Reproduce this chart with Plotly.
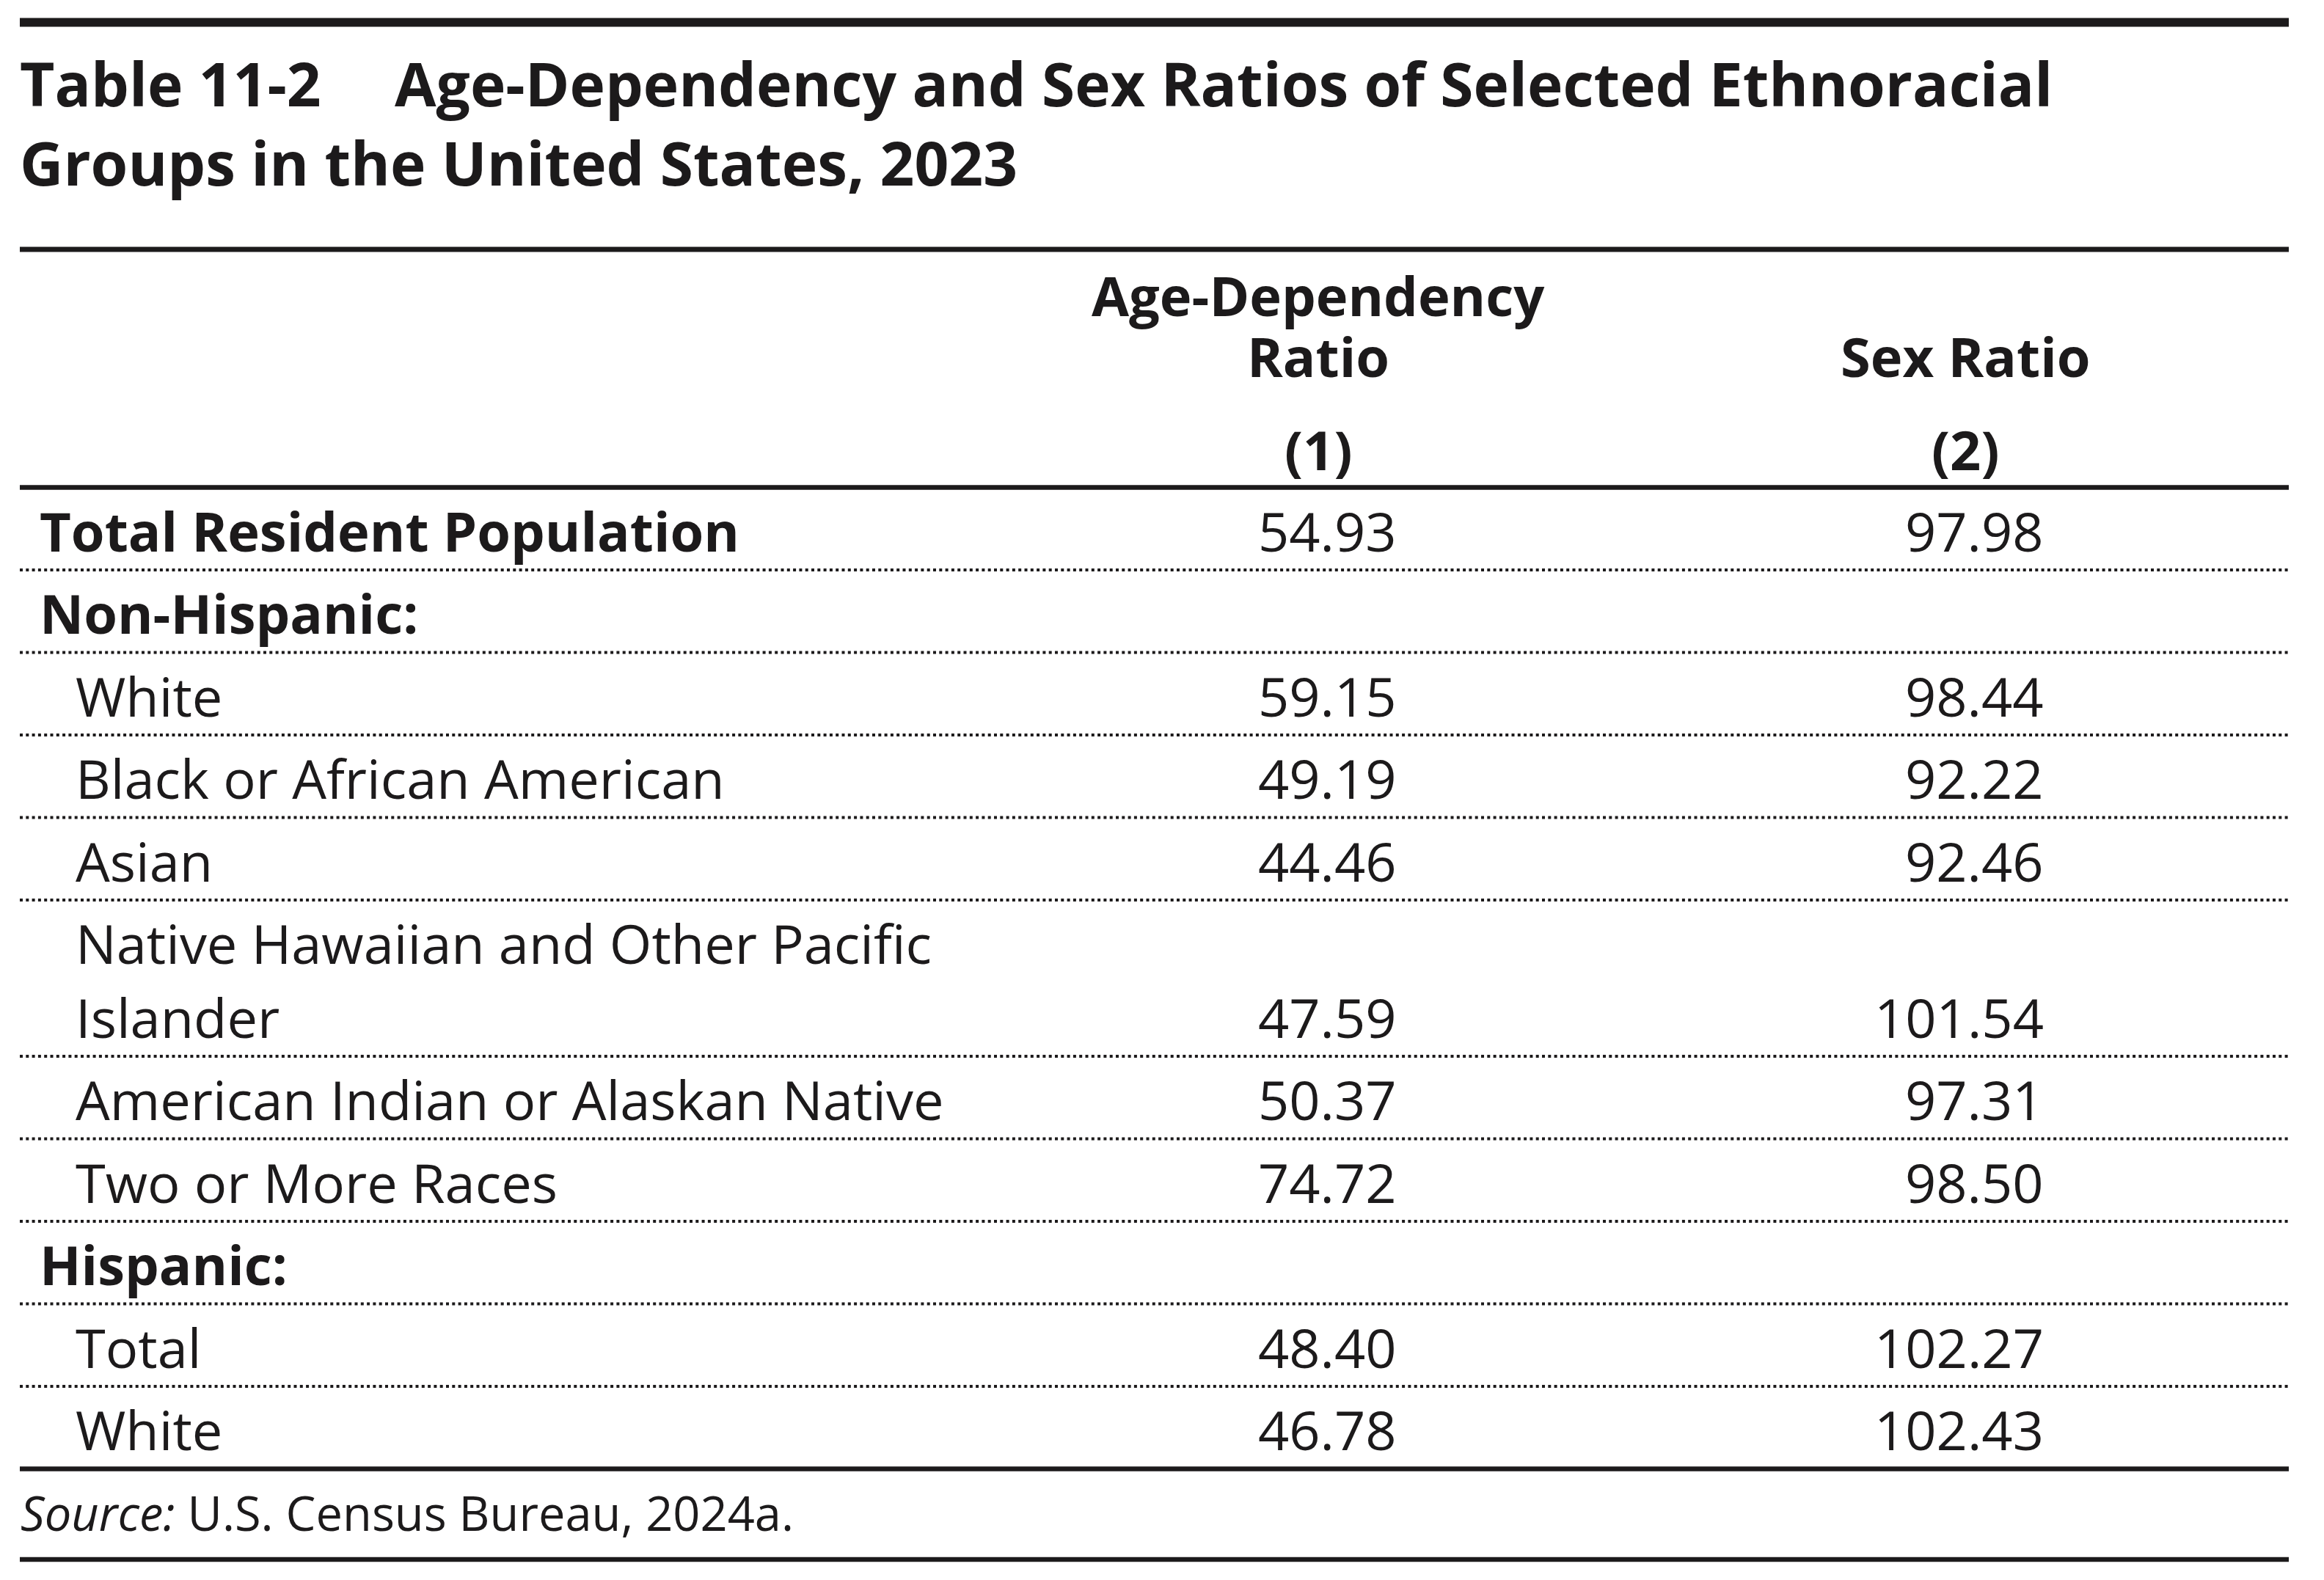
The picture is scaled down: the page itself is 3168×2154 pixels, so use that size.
import plotly.graph_objects as go

# ---- table content ----
table_number = "Table 11-2"
title_lines = [
    "Age-Dependency and Sex Ratios of Selected Ethnoracial",
    "Groups in the United States, 2023",
]
col_headers = [["Age-Dependency", "Ratio"], ["Sex Ratio"]]
col_numbers = ["(1)", "(2)"]

row_labels = [
    "Total Resident Population",
    "Non-Hispanic:",
    "White",
    "Black or African American",
    "Asian",
    "Native Hawaiian and Other Pacific\nIslander",
    "American Indian or Alaskan Native",
    "Two or More Races",
    "Hispanic:",
    "Total",
    "White",
]
row_bold = [True, True, False, False, False, False, False, False, True, False, False]
age_dependency = [54.93, None, 59.15, 49.19, 44.46, 47.59, 50.37, 74.72, None, 48.40, 46.78]
sex_ratio = [97.98, None, 98.44, 92.22, 92.46, 101.54, 97.31, 98.50, None, 102.27, 102.43]

source_label = "Source:"
source_text = "U.S. Census Bureau, 2024a."

# ---- layout constants (screen pixels) ----
W, H = 3168, 2154
PAGE_MARGIN = 8          # default <body> margin of the written html page
FONT = "Open Sans"
INK = "#1c1a1b"
X0, X1 = 27, 3120
TITLE_SIZE = 82
BODY_SIZE = 74
SOURCE_SIZE = 65
ROW_PITCH = 112.5
EXTRA_LINE = 100.5
HEADER_RULE_Y = 664.5
LABEL_X = {True: 54, False: 103}
VALUE_RIGHT = [1904, 2786]
HEADER_CENTER = [1797, 2679]

annotations = []
shapes = []


def text(x, y, s, size=BODY_SIZE, anchor="left", bold=False):
    annotations.append(dict(
        x=x, y=y, xref="x", yref="y", text=s, showarrow=False,
        xanchor=anchor, yanchor="middle", borderpad=0, borderwidth=0,
        font=dict(family=FONT, size=size, color=INK, weight=700 if bold else 400),
    ))


def rule(y, width, dash="solid"):
    shapes.append(dict(
        type="line", xref="x", yref="y", x0=X0, x1=X1, y0=y, y1=y,
        line=dict(color=INK, width=width, dash=dash),
    ))


# title
text(27, 113, table_number, size=TITLE_SIZE, bold=True)
text(538, 113, title_lines[0], size=TITLE_SIZE, bold=True)
text(27, 221, title_lines[1], size=TITLE_SIZE, bold=True)

# rules around the header
rule(30.5, 12)
rule(340, 7)
rule(HEADER_RULE_Y, 6.5)

# column headers
for cx, lines, num in zip(HEADER_CENTER, col_headers, col_numbers):
    for i, ln in enumerate(reversed(lines)):
        text(cx, 485.5 - i * 83, ln, anchor="center", bold=True)
    text(cx, 612, num, anchor="center", bold=True)

# body rows, separated by dotted rules; the last one closes with a solid rule
top = HEADER_RULE_Y
n_rows = len(row_labels)
for idx, (label, bold, a, s) in enumerate(zip(row_labels, row_bold, age_dependency, sex_ratio)):
    parts = label.split("\n")
    first_y = top + ROW_PITCH / 2 + 2.5
    for i, p in enumerate(parts):
        text(LABEL_X[bold], first_y + i * EXTRA_LINE, p, bold=bold)
    value_y = first_y + (len(parts) - 1) * EXTRA_LINE
    for xr, v in zip(VALUE_RIGHT, (a, s)):
        if v is not None:
            text(xr, value_y, f"{v:.2f}", anchor="right")
    top += ROW_PITCH + EXTRA_LINE * (len(parts) - 1)
    if idx == n_rows - 1:
        rule(top, 6.5)
    else:
        rule(top, 4, dash="4px,4.3px")

# source note and closing rule
text(28, 2062, f"<i>{source_label}</i> {source_text}", size=SOURCE_SIZE)
rule(2126, 6.5)

fig = go.Figure()
fig.update_layout(
    width=W - 2 * PAGE_MARGIN, height=H - 2 * PAGE_MARGIN,
    margin=dict(l=0, r=0, t=0, b=0),
    paper_bgcolor="white", plot_bgcolor="white",
    xaxis=dict(range=[PAGE_MARGIN, W - PAGE_MARGIN], visible=False, fixedrange=True),
    yaxis=dict(range=[H - PAGE_MARGIN, PAGE_MARGIN], visible=False, fixedrange=True),
    annotations=annotations,
    shapes=shapes,
    showlegend=False,
)
fig.write_html("out.html")
